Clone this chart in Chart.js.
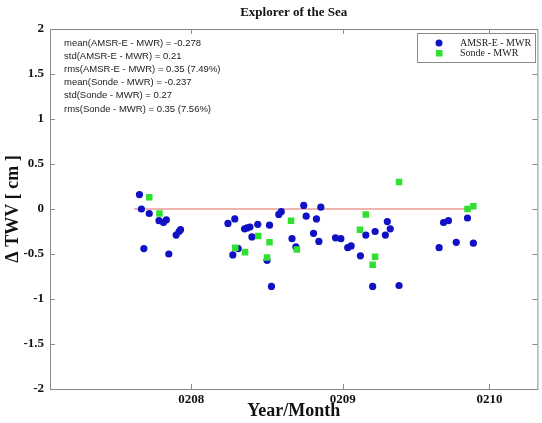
<!DOCTYPE html>
<html>
<head>
<meta charset="utf-8">
<script src="https://cdn.jsdelivr.net/npm/chart.js@4.4.0/dist/chart.umd.min.js"></script>
<style>
  html, body { margin: 0; padding: 0; background: #fff; }
</style>
</head>
<body>
<canvas id="chart" width="542" height="423"></canvas>
<script>
// x = days counted from 1 Aug 2002 (tick "0208")
const amsrDays = [-10.6, -10.2, -9.7, -8.6, -6.6, -5.7, -5.1, -4.6, -3.1, -2.5, -2.2,
  7.5, 8.5, 8.9, 9.6, 10.9, 11.4, 12.0, 12.4, 13.6, 15.5, 16.0, 16.4, 17.9, 18.4,
  20.6, 21.4, 23.0, 23.5, 25.0, 25.6, 26.1, 26.5, 29.5, 30.6, 32.0, 32.7, 34.6,
  35.7, 37.1, 37.6, 39.7, 40.1, 40.7, 42.5, 50.7, 51.6, 52.6, 54.2, 56.5, 57.7];
const amsrDiff = [0.16, 0.00, -0.44, -0.05, -0.13, -0.15, -0.12, -0.50, -0.29, -0.25, -0.23,
  -0.16, -0.51, -0.11, -0.44, -0.22, -0.21, -0.20, -0.31, -0.17, -0.57, -0.18, -0.86, -0.06, -0.03,
  -0.33, -0.42, 0.04, -0.08, -0.27, -0.11, -0.36, 0.02, -0.32, -0.33, -0.43, -0.41, -0.52,
  -0.29, -0.86, -0.25, -0.29, -0.14, -0.22, -0.85, -0.43, -0.15, -0.13, -0.37, -0.10, -0.38];
const sondeDays = [-8.6, -6.5, 9.0, 11.0, 13.7, 15.5, 16.0, 20.4, 21.6,
  34.5, 35.7, 37.1, 37.6, 42.5, 56.5, 57.7];
const sondeDiff = [0.13, -0.05, -0.43, -0.48, -0.30, -0.54, -0.37, -0.13, -0.45,
  -0.23, -0.06, -0.62, -0.53, 0.30, 0.00, 0.03];
const zeroLineDays = [-11.7, 57.7];
const monthTicks = [0, 31, 61];
const monthLabels = ['0208', '0209', '0210'];
const seriesNames = ['AMSR-E - MWR', 'Sonde - MWR'];
const statsLines = [
  'mean(AMSR-E - MWR) = -0.278',
  'std(AMSR-E - MWR) = 0.21',
  'rms(AMSR-E - MWR) = 0.35 (7.49%)',
  'mean(Sonde - MWR) = -0.237',
  'std(Sonde - MWR) = 0.27',
  'rms(Sonde - MWR) = 0.35 (7.56%)'
];

const blue = '#1010c4';
const green = '#30e030';
const serif = '"Liberation Serif", "Times New Roman", serif';

const toPts = (xs, ys) => xs.map((x, i) => ({ x: x, y: ys[i] }));

// frame with inward ticks, title, stats text and legend box
const decor = {
  id: 'decor',
  afterDraw(chart) {
    const ctx = chart.ctx;
    const a = chart.chartArea;
    const xs = chart.scales.x, ys = chart.scales.y;
    ctx.save();
    ctx.strokeStyle = '#8a8a8a';
    ctx.lineWidth = 1;
    ctx.strokeRect(a.left + 0.5, a.top + 0.5, a.right - a.left, a.bottom - a.top);
    ctx.beginPath();
    ys.ticks.forEach(t => {
      const y = Math.round(ys.getPixelForValue(t.value)) + 0.5;
      ctx.moveTo(a.left, y); ctx.lineTo(a.left + 5, y);
      ctx.moveTo(a.right, y); ctx.lineTo(a.right - 5, y);
    });
    xs.ticks.forEach(t => {
      const x = Math.round(xs.getPixelForValue(t.value)) + 0.5;
      ctx.moveTo(x, a.bottom); ctx.lineTo(x, a.bottom - 5);
      ctx.moveTo(x, a.top); ctx.lineTo(x, a.top + 5);
    });
    ctx.stroke();

    // title
    ctx.fillStyle = '#111';
    ctx.font = 'bold 13px ' + serif;
    ctx.textAlign = 'center';
    ctx.textBaseline = 'middle';
    ctx.fillText('Explorer of the Sea', (a.left + a.right) / 2, 13);

    // stats
    ctx.font = '9.5px "Liberation Sans", Arial, sans-serif';
    ctx.textAlign = 'left';
    ctx.fillStyle = '#222';
    statsLines.forEach((s, i) => ctx.fillText(s, 64, 43 + i * 13.2));

    // legend
    ctx.fillStyle = '#fff';
    ctx.fillRect(417, 33, 118, 29);
    ctx.strokeStyle = '#8a8a8a';
    ctx.strokeRect(417.5, 33.5, 118, 29);
    ctx.fillStyle = blue;
    ctx.beginPath(); ctx.arc(439, 43, 3.5, 0, Math.PI * 2); ctx.fill();
    ctx.fillStyle = green;
    ctx.fillRect(436, 50, 6.5, 6.5);
    ctx.fillStyle = '#222';
    ctx.font = '10px ' + serif;
    ctx.fillText(seriesNames[0], 460, 43);
    ctx.fillText(seriesNames[1], 460, 53.5);
    ctx.restore();
  }
};

new Chart(document.getElementById('chart'), {
  type: 'scatter',
  data: {
    datasets: [
      {
        label: seriesNames[1],
        data: toPts(sondeDays, sondeDiff),
        pointStyle: 'rect',
        pointRadius: 4.6,
        backgroundColor: green,
        borderColor: green,
        borderWidth: 0
      },
      {
        label: seriesNames[0],
        data: toPts(amsrDays, amsrDiff),
        pointStyle: 'circle',
        pointRadius: 3.6,
        backgroundColor: blue,
        borderColor: blue,
        borderWidth: 0
      },
      {
        type: 'line',
        label: 'zero',
        data: toPts(zeroLineDays, [0, 0]),
        borderColor: '#e06a5e',
        borderWidth: 1,
        pointRadius: 0,
        showLine: true
      }
    ]
  },
  options: {
    responsive: false,
    animation: false,
    layout: { padding: { left: 0, right: 3, top: 29, bottom: 0 } },
    plugins: { legend: { display: false }, tooltip: { enabled: false } },
    scales: {
      x: {
        type: 'linear',
        min: -28.9,
        max: 70.8,
        afterBuildTicks: (scale) => { scale.ticks = monthTicks.map(v => ({ value: v })); },
        afterFit: (scale) => { scale.height = 34; },
        grid: { display: false, drawTicks: false },
        border: { display: false },
        ticks: {
          autoSkip: false,
          maxRotation: 0,
          padding: 3,
          color: '#111',
          font: { family: serif, size: 13, weight: 'bold' },
          callback: (v) => monthLabels[monthTicks.indexOf(v)]
        },
        title: {
          display: true,
          text: 'Year/Month',
          color: '#111',
          font: { family: serif, size: 18, weight: 'bold' },
          padding: { top: 0, bottom: 1 }
        }
      },
      y: {
        min: -2,
        max: 2,
        afterFit: (scale) => { scale.width = 50; },
        grid: { display: false, drawTicks: false },
        border: { display: false },
        ticks: {
          stepSize: 0.5,
          padding: 6,
          color: '#111',
          font: { family: serif, size: 13, weight: 'bold' },
          callback: (v) => String(v)
        },
        title: {
          display: true,
          text: 'Δ TWV [ cm ]',
          color: '#111',
          font: { family: serif, size: 18, weight: 'bold' },
          padding: { top: 3, bottom: 0 }
        }
      }
    }
  },
  plugins: [decor]
});
</script>
</body>
</html>
